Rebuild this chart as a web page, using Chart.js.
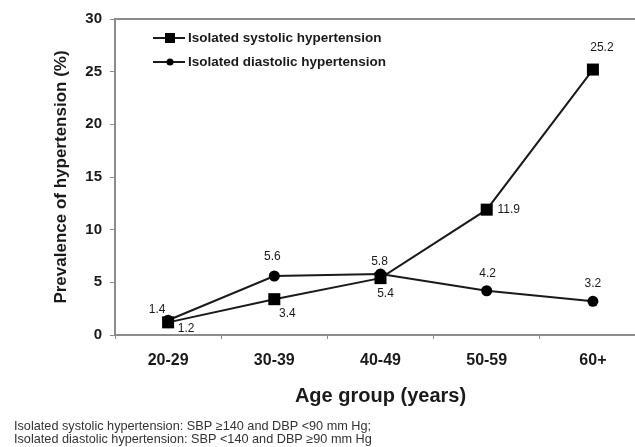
<!DOCTYPE html>
<html>
<head>
<meta charset="utf-8">
<script src="https://cdn.jsdelivr.net/npm/chart.js@4/dist/chart.umd.min.js"></script>
<style>
  html, body { margin: 0; padding: 0; background: #fff; overflow: hidden; width: 635px; height: 447px; }
  #wrap { position: relative; width: 670px; height: 447px; }
</style>
</head>
<body>
<div id="wrap"><canvas id="c" width="670" height="447"></canvas></div>
<script>
const categories = ["20-29", "30-39", "40-49", "50-59", "60+"];
const systolic = [1.2, 3.4, 5.4, 11.9, 25.2];
const diastolic = [1.4, 5.6, 5.8, 4.2, 3.2];
const yTicks = [0, 5, 10, 15, 20, 25, 30];
const seriesNames = ["Isolated systolic hypertension", "Isolated diastolic hypertension"];
const yTitle = "Prevalence of hypertension (%)";
const xTitle = "Age group (years)";
const footnotes = [
  "Isolated systolic hypertension: SBP \u2265140 and DBP <90 mm Hg;",
  "Isolated diastolic hypertension: SBP <140 and DBP \u226590 mm Hg"
];

// label placement offsets (style only)
const labelOffsets = [
  [[18, 6], [13, 15], [5, 16], [22, 0], [9, -22]],
  [[-11, -11], [-2, -19], [-1, -12], [1, -17], [0, -18]]
];

const FONT = "'Liberation Sans', Arial, sans-serif";
const INK = '#1a1a1a';
const AXIS = '#8c8c8c';

const extras = {
  id: 'extras',
  afterDraw(chart) {
    const ctx = chart.ctx;
    const a = chart.chartArea;
    ctx.save();
    // top border
    ctx.strokeStyle = AXIS;
    ctx.lineWidth = 2;
    ctx.beginPath();
    ctx.moveTo(a.left, a.top);
    ctx.lineTo(a.right, a.top);
    ctx.stroke();

    // data labels
    ctx.fillStyle = INK;
    ctx.font = "12px " + FONT;
    ctx.textAlign = 'center';
    ctx.textBaseline = 'middle';
    chart.data.datasets.forEach((ds, di) => {
      const meta = chart.getDatasetMeta(di);
      meta.data.forEach((pt, i) => {
        const off = labelOffsets[di][i];
        ctx.fillText(String(ds.data[i]), pt.x + off[0], pt.y + off[1]);
      });
    });

    // legend
    const lx0 = 153, lx1 = 185, mx = 170, tx = 188;
    const rows = [38, 62];
    chart.data.datasets.forEach((ds, di) => {
      const y = rows[di];
      ctx.strokeStyle = ds.borderColor;
      ctx.lineWidth = 2;
      ctx.beginPath();
      ctx.moveTo(lx0, y); ctx.lineTo(lx1, y); ctx.stroke();
      ctx.fillStyle = ds.pointBackgroundColor;
      if (ds.pointStyle === 'rect') {
        ctx.fillRect(mx - 5, y - 5, 10, 10);
      } else {
        ctx.beginPath(); ctx.arc(mx, y, 3.5, 0, Math.PI * 2); ctx.fill();
      }
      ctx.fillStyle = INK;
      ctx.font = "bold 13.5px " + FONT;
      ctx.textAlign = 'left';
      ctx.textBaseline = 'middle';
      ctx.fillText(seriesNames[di], tx, y);
    });

    // x axis title (centred on plot area)
    ctx.fillStyle = INK;
    ctx.font = "bold 20px " + FONT;
    ctx.textAlign = 'center';
    ctx.textBaseline = 'middle';
    ctx.fillText(xTitle, (a.left + a.right) / 2, 396);

    // footnotes
    ctx.font = "12.7px " + FONT;
    ctx.textAlign = 'left';
    ctx.fillStyle = '#333';
    ctx.fillText(footnotes[0], 14, 426);
    ctx.fillText(footnotes[1], 14, 439);
    ctx.restore();
  }
};

new Chart(document.getElementById('c'), {
  type: 'line',
  data: {
    labels: categories,
    datasets: [
      {
        label: seriesNames[0],
        data: systolic,
        borderColor: INK,
        borderWidth: 2,
        pointStyle: 'rect',
        pointRadius: 8.5,
        pointBackgroundColor: '#000',
        pointBorderWidth: 0,
        tension: 0,
        clip: false
      },
      {
        label: seriesNames[1],
        data: diastolic,
        borderColor: INK,
        borderWidth: 2,
        pointStyle: 'circle',
        pointRadius: 5.5,
        pointBackgroundColor: '#000',
        pointBorderWidth: 0,
        tension: 0,
        clip: false
      }
    ]
  },
  options: {
    responsive: false,
    animation: false,
    events: [],
    layout: { padding: { left: 0, top: 19, right: 24, bottom: 0 } },
    plugins: { legend: { display: false }, tooltip: { enabled: false } },
    scales: {
      x: {
        offset: true,
        grid: { offset: true, drawOnChartArea: false, drawTicks: true, tickLength: 4, color: AXIS, lineWidth: 1 },
        border: { display: true, color: AXIS, width: 2 },
        ticks: { color: INK, font: { family: FONT, size: 16, weight: 'bold' }, padding: 12, maxRotation: 0 },
        afterFit(scale) { scale.height = 112; }
      },
      y: {
        min: 0, max: 30,
        afterBuildTicks(scale) { scale.ticks = yTicks.map(v => ({ value: v })); },
        grid: { drawOnChartArea: false, drawTicks: true, tickLength: 5, color: AXIS, lineWidth: 1 },
        border: { display: true, color: AXIS, width: 2 },
        ticks: { color: INK, font: { family: FONT, size: 15, weight: 'bold' }, padding: 8 },
        title: { display: true, text: yTitle, color: INK, font: { family: FONT, size: 17, weight: 'bold' }, padding: { top: 51, bottom: 0 } },
        afterFit(scale) { scale.width = 115; }
      }
    }
  },
  plugins: [extras]
});
</script>
</body>
</html>
